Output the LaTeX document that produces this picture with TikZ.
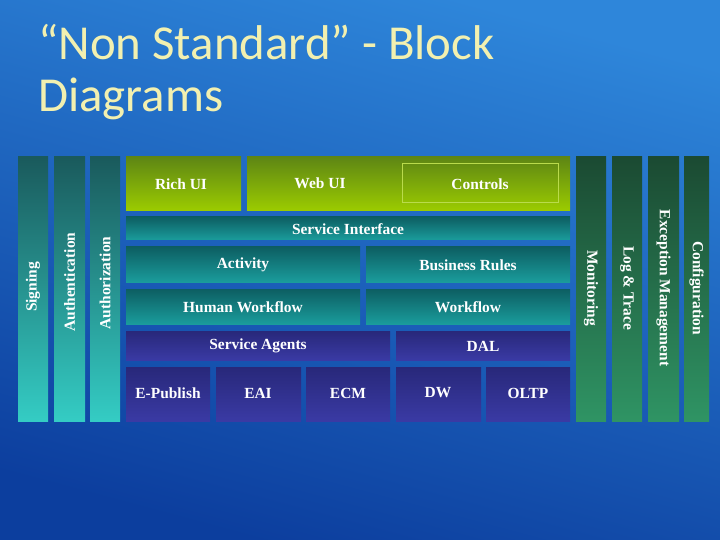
\documentclass[tikz,border=0pt]{standalone}
\usepackage{fontspec}
\setmainfont{Liberation Serif}
\newfontfamily\titlefont{Carlito}
\definecolor{bgA}{HTML}{2E86DA}
\definecolor{bgB}{HTML}{0C3E9E}
\definecolor{gA}{HTML}{5E8614}
\definecolor{gB}{HTML}{9CCC00}
\definecolor{tA}{HTML}{0D5E62}
\definecolor{tB}{HTML}{1A9C9C}
\definecolor{pA}{HTML}{28287A}
\definecolor{pB}{HTML}{3A3AA4}
\definecolor{lA}{HTML}{1A5A5C}
\definecolor{lB}{HTML}{34CCC4}
\definecolor{rA}{HTML}{1B4A32}
\definecolor{rB}{HTML}{2F9464}
\definecolor{ttl}{HTML}{F2F0B0}
\begin{document}
\begin{tikzpicture}[x=1bp,y=-1bp,
  lbl/.style={text=white,font=\bfseries\fontsize{15.5}{17}\selectfont},
  grn/.style={top color=gA,bottom color=gB},
  teal/.style={top color=tA,bottom color=tB},
  purp/.style={top color=pA,bottom color=pB},
  lbar/.style={top color=lA,bottom color=lB},
  rbar/.style={top color=rA,bottom color=rB}]
\shade[top color=bgA,bottom color=bgB,shading angle=-15] (0,0) rectangle (720,540);
\useasboundingbox (0,0) rectangle (720,540);
\node[anchor=north west,align=left,text=ttl,inner sep=0pt,font=\titlefont\fontsize{49}{52}\selectfont] (title) at (38,24) {“Non Standard” - Block\\Diagrams};
% left bars
\shade[lbar] (18,157) rectangle (48,421);
\shade[lbar] (54,157) rectangle (85,421);
\shade[lbar] (90,157) rectangle (120,421);
\node[lbl,rotate=90] (sig) at (33,287) {Signing};
\node[lbl,rotate=90] (aun) at (69.5,282) {Authentication};
\node[lbl,rotate=90] (aur) at (105,283) {Authorization};
% right bars
\shade[rbar] (576,157) rectangle (606,421);
\shade[rbar] (612,157) rectangle (642,421);
\shade[rbar] (648,157) rectangle (679,421);
\shade[rbar] (684,157) rectangle (709,421);
\node[lbl,rotate=-90] (mon) at (591,288) {Monitoring};
\node[lbl,rotate=-90] (log) at (627,288) {Log \& Trace};
\node[lbl,rotate=-90] (exc) at (663.5,288) {Exception Management};
\node[lbl,rotate=-90] (cfg) at (696.5,288) {Configuration};
% UI
\shade[grn] (126,157) rectangle (241,211);
\shade[grn] (247,157) rectangle (570,211);
\draw[gB!70!white,line width=0.5pt] (402,163) rectangle (558,202);
\node[lbl] (rich) at (181,184) {Rich UI};
\node[lbl] (web) at (320,183) {Web UI};
\node[lbl] (ctl) at (480,184) {Controls};
% service
\shade[teal] (126,217) rectangle (570,240);
\node[lbl] (si) at (348,229) {Service Interface};
\shade[teal] (126,247) rectangle (360,282);
\shade[teal] (366,247) rectangle (570,282);
\node[lbl] (act) at (243,265) {Activity};
\node[lbl] (br) at (468,265) {Business Rules};
\shade[teal] (126,289) rectangle (360,324);
\shade[teal] (366,289) rectangle (570,324);
\node[lbl] (hw) at (243,307) {Human Workflow};
\node[lbl] (wf) at (468,307) {Workflow};
% data
\shade[purp] (126,331) rectangle (390,360);
\shade[purp] (396,331) rectangle (570,360);
\node[lbl] (sa) at (258,346) {Service Agents};
\node[lbl] (dal) at (483,346) {DAL};
\shade[purp] (126,367) rectangle (210,421);
\shade[purp] (216,367) rectangle (301,421);
\shade[purp] (306,367) rectangle (390,421);
\shade[purp] (396,367) rectangle (481,421);
\shade[purp] (486,367) rectangle (570,421);
\node[lbl] (ep) at (168,393) {E-Publish};
\node[lbl] (eai) at (258,393) {EAI};
\node[lbl] (ecm) at (348,393) {ECM};
\node[lbl] (dw) at (438,393) {DW};
\node[lbl] (oltp) at (528,393) {OLTP};
\end{tikzpicture}
\end{document}
